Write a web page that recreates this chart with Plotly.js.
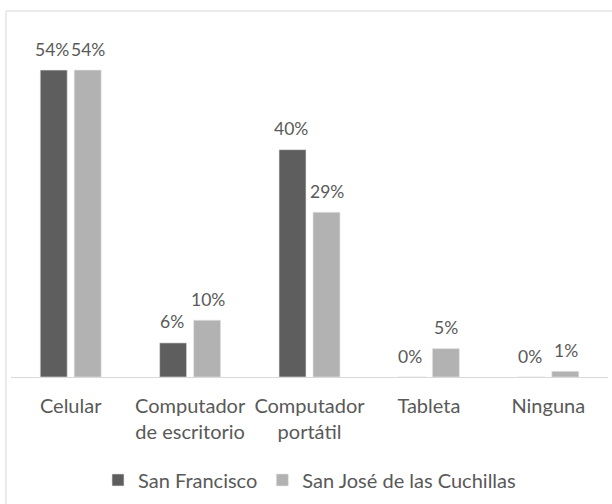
<!DOCTYPE html>
<html>
<head>
<meta charset="utf-8">
<script src="https://cdn.plot.ly/plotly-3.0.1.min.js"></script>
<style>html,body{margin:0;padding:0;background:#fff;}#chart{width:612px;height:504px;}</style>
</head>
<body>
<div id="chart"></div>
<script>
const categories = ["Celular", "Computador<br>de escritorio", "Computador<br>portátil", "Tableta", "Ninguna"];
const seriesNames = ["San Francisco", "San José de las Cuchillas"];
const sanFrancisco = [54, 6, 40, 0, 0];
const sanJose = [54, 10, 29, 5, 1];
const valueLabels = [sanFrancisco.map(v => v + "%"), sanJose.map(v => v + "%")];

const textColor = "#595959";
const fontFam = "Lato, 'Open Sans', sans-serif";
const colors = ["#5e5e5e", "#b2b2b2"];
const seriesData = [sanFrancisco, sanJose];

const traces = seriesData.map((vals, i) => ({
  type: "bar",
  name: seriesNames[i],
  x: categories,
  y: vals,
  marker: {color: colors[i], line: {color: "#e6e6e6", width: 0.6}},
  hoverinfo: "skip"
}));

const annotations = [];
seriesData.forEach((vals, i) => {
  vals.forEach((v, j) => {
    annotations.push({
      x: categories[j], y: v, xref: "x", yref: "y",
      text: valueLabels[i][j], showarrow: false,
      xshift: i === 0 ? -18.5 : 17.5, yshift: 21,
      yanchor: "middle", xanchor: "center",
      font: {family: fontFam, size: 17.5, color: textColor}
    });
  });
});

const layout = {
  width: 612, height: 504,
  margin: {l: 11, r: 4, t: 36, b: 127},
  paper_bgcolor: "#ffffff", plot_bgcolor: "#ffffff",
  barmode: "group", bargap: 0.431, bargroupgap: 0.206,
  showlegend: true,
  legend: {orientation: "h", x: 0.5, xanchor: "center", y: -0.302, yanchor: "middle",
           font: {family: fontFam, size: 20, color: textColor}, itemclick: false},
  xaxis: {showline: true, linecolor: "#d9d9d9", linewidth: 1, ticks: "", ticklabelstandoff: 11,
          tickfont: {family: fontFam, size: 20, color: textColor}, fixedrange: true},
  yaxis: {range: [0, 60], visible: false, showgrid: false, zeroline: false, fixedrange: true},
  annotations: annotations,
  shapes: [{type: "rect", xref: "paper", yref: "paper", x0: -0.0084, x1: 1.02, y0: -0.42, y1: 1.0733,
            line: {color: "#d9d9d9", width: 1}, fillcolor: "rgba(0,0,0,0)", layer: "below"}]
};

Plotly.newPlot("chart", traces, layout, {displayModeBar: false, staticPlot: true});
</script>
</body>
</html>
